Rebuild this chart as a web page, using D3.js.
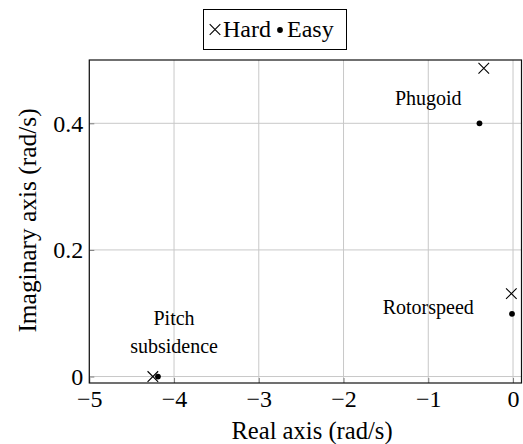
<!DOCTYPE html>
<html>
<head>
<meta charset="utf-8">
<script src="https://cdn.jsdelivr.net/npm/d3@7"></script>
<style>
  html, body { margin: 0; padding: 0; background: #fff; }
</style>
</head>
<body>
<svg id="chart" width="523" height="444" font-family="Liberation Serif"></svg>
<script>
// Pole locations (real, imaginary) in rad/s
const modes = ["Phugoid", "Rotorspeed", "Pitch subsidence"];
const hardReal = [-0.345, -0.02, -4.25];
const hardImag = [0.487, 0.131, 0.0];
const easyReal = [-0.396, -0.012, -4.19];
const easyImag = [0.4, 0.099, 0.0];

// Axis ticks
const xTicks = [-5, -4, -3, -2, -1, 0];
const yTicks = [0, 0.2, 0.4];

// Mode annotations: text lines and the data point of each line's baseline
const noteLines = ["Phugoid", "Rotorspeed", "Pitch", "subsidence"];
const noteReal = [-1.0, -1.0, -4.0, -4.0];
const noteImag = [0.429, 0.0985, 0.0815, 0.0372];

const FONT = "Liberation Serif";
const svg = d3.select("#chart");
const W = 523, H = 444;
const margin = { left: 89.3, right: 1.5, top: 60, bottom: 61 };

const x = d3.scaleLinear().domain([-5, 0.1]).range([margin.left, W - margin.right]);
const y = d3.scaleLinear().domain([-0.0102, 0.5]).range([H - margin.bottom, margin.top]);

const fsMain = 24;   // ticks, legend
const fsLabel = 24.6; // axis titles
const fsNote = 20;   // mode annotations

// grid
const grid = svg.append("g");
grid.selectAll(".gx").data(xTicks).join("line")
  .attr("x1", d => x(d)).attr("x2", d => x(d))
  .attr("y1", y.range()[0]).attr("y2", y.range()[1])
  .attr("stroke", "#c8c8c8").attr("stroke-width", 1);
grid.selectAll(".gy").data(yTicks).join("line")
  .attr("y1", d => y(d)).attr("y2", d => y(d))
  .attr("x1", x.range()[0]).attr("x2", x.range()[1])
  .attr("stroke", "#c8c8c8").attr("stroke-width", 1);

// axes with inward ticks
const fmtX = d => d < 0 ? "\u2212" + Math.abs(d) : String(d);
const fmtY = d => d === 0 ? "0" : d3.format(".1f")(d);
const xAxis = svg.append("g").attr("transform", `translate(0,${y.range()[0]})`)
  .call(d3.axisBottom(x).tickValues(xTicks).tickSize(-5).tickSizeOuter(0).tickFormat(fmtX));
const yAxis = svg.append("g").attr("transform", `translate(${x.range()[0]},0)`)
  .call(d3.axisLeft(y).tickValues(yTicks).tickSize(-5).tickSizeOuter(0).tickFormat(fmtY));
[xAxis, yAxis].forEach(a => {
  a.attr("font-family", FONT).attr("font-size", fsMain);
  a.select(".domain").remove();
  a.selectAll(".tick line").attr("stroke", "#808080");
  a.selectAll(".tick text").attr("fill", "#000");
});
xAxis.selectAll(".tick text").attr("y", 24).attr("dy", 0);
yAxis.selectAll(".tick text").attr("x", -6).attr("dy", "0.33em");

// frame
svg.append("rect")
  .attr("x", x.range()[0]).attr("y", y.range()[1])
  .attr("width", x.range()[1] - x.range()[0]).attr("height", y.range()[0] - y.range()[1])
  .attr("fill", "none").attr("stroke", "#111").attr("stroke-width", 1.2);

// axis labels
svg.append("text")
  .attr("x", 312).attr("y", 439)
  .attr("text-anchor", "middle").attr("font-size", fsLabel).attr("font-family", FONT)
  .text("Real axis (rad/s)");
svg.append("text")
  .attr("transform", `translate(36,${(y.range()[0] + y.range()[1]) / 2 - 1}) rotate(-90)`)
  .attr("text-anchor", "middle").attr("font-size", fsLabel + 0.8).attr("font-family", FONT)
  .text("Imaginary axis (rad/s)");

// cross marker path
const crossR = 5.3;
const cross = `M${-crossR},${-crossR}L${crossR},${crossR}M${-crossR},${crossR}L${crossR},${-crossR}`;

// markers
svg.append("g").selectAll("path").data(d3.range(modes.length)).join("path")
  .attr("d", cross)
  .attr("transform", i => `translate(${x(hardReal[i])},${y(hardImag[i])})`)
  .attr("fill", "none").attr("stroke", "#000").attr("stroke-width", 1.1);
svg.append("g").selectAll("circle").data(d3.range(modes.length)).join("circle")
  .attr("cx", i => x(easyReal[i])).attr("cy", i => y(easyImag[i]))
  .attr("r", 2.9).attr("fill", "#000");

// annotations
svg.append("g").selectAll("text").data(d3.range(noteLines.length)).join("text")
  .attr("x", i => x(noteReal[i])).attr("y", i => y(noteImag[i]))
  .attr("text-anchor", "middle").attr("font-size", fsNote).attr("font-family", FONT)
  .text(i => noteLines[i]);

// legend
const lg = svg.append("g").attr("font-family", FONT).attr("font-size", fsMain);
lg.append("rect").attr("x", 203.5).attr("y", 9.5).attr("width", 143).attr("height", 40)
  .attr("fill", "#fff").attr("stroke", "#000").attr("stroke-width", 1);
lg.append("path").attr("d", cross).attr("transform", "translate(215,29.5)")
  .attr("fill", "none").attr("stroke", "#000").attr("stroke-width", 1.1);
lg.append("text").attr("x", 223).attr("y", 37).text("Hard");
lg.append("circle").attr("cx", 280).attr("cy", 30).attr("r", 2.9).attr("fill", "#000");
lg.append("text").attr("x", 287).attr("y", 37).text("Easy");
</script>
</body>
</html>
